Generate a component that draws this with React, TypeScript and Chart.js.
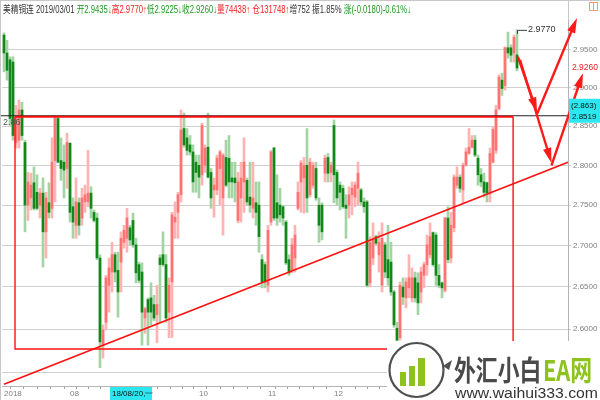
import React, { useEffect, useRef } from "react";
import { Chart, registerables } from "chart.js";
Chart.register(...registerables);

// ---- Daily OHLC, 美精铜连 (2018-07 .. 2019-03-01) ----
const opens = [
  2.970, 2.946, 2.937, 2.934, 2.829, 2.832, 2.871, 2.829, 2.750, 2.759,
  2.778, 2.766, 2.750, 2.765, 2.717, 2.753, 2.746, 2.806, 2.860, 2.806,
  2.804, 2.796, 2.828, 2.748, 2.725, 2.753, 2.734, 2.754, 2.754, 2.765,
  2.741, 2.734, 2.685, 2.581, 2.608, 2.652, 2.668, 2.689, 2.670, 2.680,
  2.704, 2.709, 2.722, 2.731, 2.701, 2.677, 2.668, 2.613, 2.635, 2.637,
  2.629, 2.617, 2.685, 2.689, 2.677, 2.620, 2.656, 2.729, 2.741, 2.763,
  2.847, 2.835, 2.826, 2.817, 2.804, 2.800, 2.788, 2.800, 2.823, 2.791,
  2.769, 2.769, 2.796, 2.759, 2.810, 2.809, 2.784, 2.784, 2.731, 2.759,
  2.779, 2.781, 2.760, 2.746, 2.753, 2.750, 2.683, 2.677, 2.652, 2.729,
  2.822, 2.753, 2.750, 2.748, 2.729, 2.683, 2.670, 2.685, 2.746, 2.779,
  2.784, 2.800, 2.763, 2.775, 2.796, 2.750, 2.750, 2.790, 2.810, 2.791,
  2.851, 2.791, 2.775, 2.771, 2.750, 2.750, 2.763, 2.760, 2.771, 2.769,
  2.754, 2.754, 2.655, 2.685, 2.711, 2.689, 2.652, 2.701, 2.683, 2.680,
  2.644, 2.601, 2.590, 2.650, 2.637, 2.649, 2.637, 2.661, 2.655, 2.644,
  2.664, 2.677, 2.689, 2.716, 2.713, 2.664, 2.655, 2.646, 2.734, 2.685,
  2.722, 2.775, 2.785, 2.769, 2.800, 2.815, 2.823, 2.832, 2.809, 2.788,
  2.779, 2.778, 2.766, 2.804, 2.819, 2.873, 2.910, 2.903, 2.953, 2.953,
  2.946, 2.9435,
];
const highs = [
  2.973, 2.963, 2.941, 2.941, 2.877, 2.884, 2.881, 2.832, 2.791, 2.790,
  2.798, 2.788, 2.771, 2.784, 2.766, 2.778, 2.835, 2.862, 2.862, 2.835,
  2.826, 2.841, 2.829, 2.759, 2.784, 2.759, 2.771, 2.775, 2.819, 2.773,
  2.744, 2.740, 2.689, 2.605, 2.664, 2.685, 2.704, 2.692, 2.692, 2.717,
  2.725, 2.746, 2.725, 2.740, 2.709, 2.680, 2.679, 2.626, 2.637, 2.655,
  2.640, 2.652, 2.689, 2.717, 2.689, 2.661, 2.741, 2.754, 2.766, 2.871,
  2.867, 2.847, 2.838, 2.826, 2.813, 2.813, 2.854, 2.826, 2.867, 2.796,
  2.784, 2.813, 2.819, 2.815, 2.832, 2.838, 2.804, 2.804, 2.791, 2.804,
  2.835, 2.784, 2.804, 2.804, 2.779, 2.779, 2.689, 2.680, 2.725, 2.819,
  2.823, 2.788, 2.771, 2.750, 2.731, 2.689, 2.709, 2.725, 2.779, 2.806,
  2.810, 2.847, 2.809, 2.804, 2.804, 2.759, 2.753, 2.813, 2.815, 2.804,
  2.858, 2.794, 2.779, 2.775, 2.763, 2.773, 2.779, 2.779, 2.804, 2.771,
  2.759, 2.756, 2.711, 2.728, 2.713, 2.717, 2.728, 2.704, 2.725, 2.704,
  2.646, 2.608, 2.656, 2.661, 2.661, 2.689, 2.673, 2.668, 2.667, 2.674,
  2.680, 2.713, 2.728, 2.717, 2.716, 2.677, 2.656, 2.735, 2.748, 2.741,
  2.788, 2.798, 2.788, 2.803, 2.822, 2.847, 2.838, 2.838, 2.813, 2.796,
  2.790, 2.779, 2.822, 2.849, 2.877, 2.917, 2.919, 2.954, 2.974, 2.957,
  2.970, 2.977,
];
const lows = [
  2.921, 2.910, 2.851, 2.832, 2.822, 2.822, 2.832, 2.717, 2.731, 2.744,
  2.744, 2.744, 2.734, 2.674, 2.685, 2.734, 2.734, 2.754, 2.803, 2.781,
  2.759, 2.771, 2.729, 2.709, 2.709, 2.713, 2.725, 2.741, 2.748, 2.734,
  2.729, 2.683, 2.555, 2.566, 2.599, 2.620, 2.644, 2.656, 2.614, 2.644,
  2.697, 2.692, 2.701, 2.698, 2.655, 2.655, 2.581, 2.595, 2.581, 2.605,
  2.610, 2.584, 2.608, 2.675, 2.608, 2.590, 2.590, 2.709, 2.709, 2.754,
  2.823, 2.813, 2.813, 2.766, 2.766, 2.759, 2.775, 2.791, 2.784, 2.746,
  2.735, 2.763, 2.750, 2.713, 2.773, 2.759, 2.759, 2.754, 2.728, 2.729,
  2.741, 2.750, 2.741, 2.734, 2.725, 2.692, 2.649, 2.649, 2.644, 2.725,
  2.731, 2.725, 2.729, 2.725, 2.677, 2.664, 2.667, 2.668, 2.744, 2.741,
  2.740, 2.741, 2.760, 2.771, 2.756, 2.704, 2.707, 2.779, 2.779, 2.779,
  2.753, 2.750, 2.744, 2.746, 2.709, 2.734, 2.738, 2.748, 2.750, 2.750,
  2.741, 2.650, 2.650, 2.677, 2.701, 2.668, 2.644, 2.661, 2.652, 2.640,
  2.602, 2.585, 2.587, 2.629, 2.625, 2.637, 2.632, 2.632, 2.617, 2.631,
  2.649, 2.664, 2.685, 2.675, 2.652, 2.649, 2.637, 2.644, 2.679, 2.679,
  2.717, 2.771, 2.766, 2.753, 2.799, 2.814, 2.822, 2.811, 2.775, 2.773,
  2.760, 2.754, 2.754, 2.803, 2.815, 2.871, 2.890, 2.897, 2.939, 2.934,
  2.934, 2.9225,
];
const closes = [
  2.946, 2.923, 2.860, 2.838, 2.860, 2.871, 2.838, 2.750, 2.779, 2.775,
  2.746, 2.746, 2.765, 2.717, 2.759, 2.741, 2.804, 2.860, 2.804, 2.796,
  2.794, 2.829, 2.741, 2.729, 2.754, 2.725, 2.759, 2.763, 2.765, 2.746,
  2.731, 2.685, 2.585, 2.599, 2.661, 2.673, 2.689, 2.668, 2.644, 2.709,
  2.719, 2.734, 2.707, 2.701, 2.667, 2.658, 2.620, 2.624, 2.620, 2.620,
  2.613, 2.629, 2.677, 2.677, 2.613, 2.652, 2.738, 2.735, 2.763, 2.845,
  2.826, 2.819, 2.817, 2.779, 2.791, 2.785, 2.851, 2.822, 2.785, 2.759,
  2.775, 2.809, 2.817, 2.813, 2.775, 2.779, 2.779, 2.778, 2.779, 2.784,
  2.804, 2.754, 2.750, 2.759, 2.741, 2.711, 2.656, 2.656, 2.719, 2.817,
  2.734, 2.734, 2.738, 2.734, 2.679, 2.667, 2.701, 2.713, 2.766, 2.803,
  2.800, 2.759, 2.804, 2.800, 2.759, 2.725, 2.717, 2.809, 2.790, 2.800,
  2.788, 2.759, 2.766, 2.748, 2.746, 2.763, 2.771, 2.775, 2.790, 2.754,
  2.748, 2.652, 2.704, 2.707, 2.703, 2.704, 2.709, 2.668, 2.661, 2.644,
  2.605, 2.587, 2.652, 2.638, 2.656, 2.661, 2.661, 2.637, 2.631, 2.668,
  2.677, 2.701, 2.711, 2.677, 2.664, 2.652, 2.649, 2.734, 2.683, 2.725,
  2.785, 2.785, 2.771, 2.800, 2.817, 2.823, 2.832, 2.813, 2.788, 2.779,
  2.766, 2.765, 2.815, 2.846, 2.871, 2.914, 2.899, 2.953, 2.946, 2.943,
  2.967, 2.926,
];

// ---- axes ----
const yTickValues = [2.55, 2.6, 2.65, 2.7, 2.75, 2.8, 2.85, 2.9, 2.95];
const xLabelIndex = [0, 22, 45, 65, 88, 110, 131];
const xLabelText = ["2018", "08", "09", "10", "11", "12", "2019"];
const xMinorIndex = [4, 9, 13, 18, 26, 30, 34, 40, 49, 53, 58, 61, 70, 74, 79, 83, 93, 96, 101, 105, 115, 119, 123, 127, 136, 140, 145, 149, 158, 162, 166];

// ---- annotations (index, price) ----
const cursorPrice = 2.8635;
const resistancePrice = 2.8622;
const boxLeftIndex = 3.67;
const boxRightIndex = 169.7;
const boxBottomPrice = 2.5766;
const trendFrom = [0, 2.5359];
const trendTo = [188, 2.804];
const arrowFrom = [[171.3, 2.941], [177.7, 2.866], [172.0, 2.937], [182.5, 2.8]];
const arrowTo = [[177.7, 2.868], [191.0, 2.993], [182.5, 2.803], [193.0, 2.9195]];
const highMark = 2.977;
const lastClose = 2.926;
const cursorDateIndex = 36;
const cursorDateText = "18/08/20,一";
const axisBoxTop = "(2.863)";
const axisBoxBottom = "2.8519";

const titleSegments: [string, string][] = [
  ["美精铜连 2019/03/01 ", "dark"],
  ["开2.9435↓", "green"],
  ["高2.9770↑", "red"],
  ["低2.9225↓", "green"],
  ["收2.9260↓", "green"],
  ["量74438↑ ", "red"],
  ["仓131748↑", "red"],
  ["增752 ", "dark"],
  ["振1.85% ", "dark"],
  ["涨(-0.0180)-0.61%↓", "green"],
];

const COLORS: Record<string, string> = { dark: "#333333", green: "#1f9a1f", red: "#f01c1c" };

function drawArrow(ctx: CanvasRenderingContext2D, x0: number, y0: number, x1: number, y1: number) {
  const ang = Math.atan2(y1 - y0, x1 - x0);
  const L = 15, W = 4.2;
  const bx = x1 - L * Math.cos(ang), by = y1 - L * Math.sin(ang);
  ctx.beginPath();
  ctx.moveTo(x0, y0);
  ctx.lineTo(bx + 2 * Math.cos(ang), by + 2 * Math.sin(ang));
  ctx.stroke();
  ctx.beginPath();
  ctx.moveTo(x1, y1);
  ctx.lineTo(bx + W * Math.sin(ang), by - W * Math.cos(ang));
  ctx.lineTo(bx - W * Math.sin(ang), by + W * Math.cos(ang));
  ctx.closePath();
  ctx.fill();
}

const overlayPlugin = {
  id: "overlay",
  beforeDraw(chart: any) {
    const ctx = chart.ctx;
    ctx.save();
    ctx.fillStyle = "#ffffff";
    ctx.fillRect(0, 0, chart.width, chart.height);
    ctx.restore();
  },
  afterDatasetsDraw(chart: any) {
    const ctx: CanvasRenderingContext2D = chart.ctx;
    const xs = chart.scales.x, ys = chart.scales.y;
    const X = (v: number) => xs.getPixelForValue(v);
    const Y = (v: number) => ys.getPixelForValue(v);
    const area = chart.chartArea;
    ctx.save();
    // cursor line (black)
    ctx.strokeStyle = "#222";
    ctx.lineWidth = 1.2;
    ctx.beginPath();
    ctx.moveTo(0, Y(cursorPrice));
    ctx.lineTo(area.right, Y(cursorPrice));
    ctx.stroke();
    // rectangle (red)
    ctx.strokeStyle = "#ff1010";
    ctx.lineWidth = 1.4;
    ctx.beginPath();
    ctx.moveTo(X(boxLeftIndex), Y(resistancePrice));
    ctx.lineTo(X(boxLeftIndex), Y(boxBottomPrice));
    ctx.lineTo(X(boxRightIndex), Y(boxBottomPrice));
    ctx.lineTo(X(boxRightIndex), Y(resistancePrice));
    ctx.stroke();
    ctx.lineWidth = 2;
    ctx.beginPath();
    ctx.moveTo(X(boxLeftIndex), Y(resistancePrice));
    ctx.lineTo(X(boxRightIndex), Y(resistancePrice));
    ctx.stroke();
    // trend line
    ctx.lineWidth = 1.6;
    ctx.beginPath();
    ctx.moveTo(X(trendFrom[0]), Y(trendFrom[1]));
    ctx.lineTo(X(trendTo[0]), Y(trendTo[1]));
    ctx.stroke();
    // arrows
    ctx.strokeStyle = "#ff1a1a";
    ctx.fillStyle = "#ff1a1a";
    ctx.lineWidth = 2.4;
    for (let i = 0; i < arrowFrom.length; i++) {
      drawArrow(ctx, X(arrowFrom[i][0]), Y(arrowFrom[i][1]), X(arrowTo[i][0]), Y(arrowTo[i][1]));
    }
    ctx.restore();
  },
  afterDraw(chart: any) {
    const ctx: CanvasRenderingContext2D = chart.ctx;
    const xs = chart.scales.x, ys = chart.scales.y;
    const X = (v: number) => xs.getPixelForValue(v);
    const Y = (v: number) => ys.getPixelForValue(v);
    const area = chart.chartArea;
    ctx.save();
    // frame lines
    ctx.strokeStyle = "#c8c8c8";
    ctx.lineWidth = 1;
    ctx.beginPath();
    ctx.moveTo(0.5, 0); ctx.lineTo(0.5, 400);
    ctx.moveTo(0, 0.5); ctx.lineTo(600, 0.5);
    ctx.moveTo(area.right + 0.5, 0); ctx.lineTo(area.right + 0.5, area.top);
    ctx.stroke();

    // title
    ctx.font = '10.5px "Liberation Sans", "Noto Sans CJK SC", sans-serif';
    ctx.textBaseline = "alphabetic";
    let total = 0;
    titleSegments.forEach((s) => (total += ctx.measureText(s[0]).width));
    const sx = Math.min(1, 408 / total);
    ctx.save();
    ctx.translate(3, 0);
    ctx.scale(sx, 1);
    let tx = 0;
    for (const [t, c] of titleSegments) {
      ctx.fillStyle = COLORS[c];
      ctx.fillText(t, tx, 13);
      tx += ctx.measureText(t).width;
    }
    ctx.restore();

    // orange icon
    ctx.strokeStyle = "#f59a6a";
    ctx.strokeRect(589.5, 2.5, 8, 8);
    ctx.beginPath(); ctx.moveTo(593.5, 2.5); ctx.lineTo(593.5, 10.5); ctx.stroke();

    // left value label of cursor line
    ctx.font = '9px "Liberation Sans", sans-serif';
    ctx.fillStyle = "#555";
    ctx.textBaseline = "top";
    ctx.fillText("2.86", 3, Y(cursorPrice) + 2);

    // high marker
    const hx = X(opens.length - 1), hy = Y(highMark);
    ctx.strokeStyle = "#444";
    ctx.lineWidth = 1;
    ctx.beginPath();
    ctx.moveTo(hx + 0.5, hy + 4); ctx.lineTo(hx + 0.5, hy + 0.5); ctx.lineTo(hx + 10, hy + 0.5);
    ctx.stroke();
    ctx.fillStyle = "#333";
    ctx.textBaseline = "middle";
    ctx.font = '9px "Liberation Sans", sans-serif';
    ctx.fillText(highMark.toFixed(4), hx + 11, hy);

    // last close on axis
    const cy = Y(lastClose);
    ctx.fillStyle = "#ffffff";
    ctx.fillRect(area.right + 2, cy - 6, 30, 12);
    ctx.fillStyle = "#f01c1c";
    ctx.font = '8.5px "Liberation Sans", sans-serif';
    ctx.fillText(lastClose.toFixed(4), area.right + 4, cy);

    // cyan box on axis
    const by = Y(cursorPrice);
    ctx.fillStyle = "#2ee6f0";
    ctx.fillRect(area.right + 1, by - 17, 31, 24);
    ctx.fillStyle = "#111";
    ctx.font = '8px "Liberation Sans", sans-serif';
    ctx.fillText(axisBoxTop, area.right + 3, by - 10);
    ctx.fillText(axisBoxBottom, area.right + 4, by + 1);

    // cursor date box
    const dx = X(cursorDateIndex) - 2;
    ctx.fillStyle = "#2ee6f0";
    ctx.fillRect(dx, area.bottom + 1, 42, 13);
    ctx.fillStyle = "#111";
    ctx.textBaseline = "middle";
    ctx.fillText(cursorDateText, dx + 2, area.bottom + 8);

    // watermark
    ctx.fillStyle = "#ffffff";
    ctx.fillRect(387, 341, 213, 59);
    ctx.strokeStyle = "#505050";
    ctx.lineWidth = 2.2;
    ctx.beginPath();
    ctx.arc(416.5, 370, 27, 0, Math.PI * 2);
    ctx.stroke();
    ctx.fillStyle = "#8dc21f";
    ctx.fillRect(400, 372, 6, 14);
    ctx.fillRect(409, 366, 6, 20);
    ctx.fillRect(418, 358, 7, 28);
    ctx.fillStyle = "#505050";
    ctx.beginPath();
    ctx.moveTo(443, 366); ctx.lineTo(452, 360); ctx.lineTo(449, 370); ctx.closePath();
    ctx.fill();
    ctx.save();
    ctx.textBaseline = "alphabetic";
    ctx.font = 'bold 28px "Noto Sans CJK SC", sans-serif';
    ctx.translate(454, 381);
    ctx.scale(0.78, 1);
    ctx.fillStyle = "#4a4a4a";
    ctx.fillText("外汇小白", 0, 0);
    const w1 = ctx.measureText("外汇小白").width;
    ctx.fillStyle = "#8dc21f";
    ctx.fillText("EA网", w1 + 2, 0);
    ctx.restore();
    ctx.save();
    ctx.font = '14px "Liberation Sans", sans-serif';
    ctx.textBaseline = "alphabetic";
    const ww = ctx.measureText("www.waihui333.com").width;
    ctx.translate(455, 398);
    ctx.scale(143 / ww, 1);
    ctx.fillStyle = "#333";
    ctx.fillText("www.waihui333.com", 0, 0);
    ctx.restore();

    ctx.restore();
  },
};

export default function App() {
  const ref = useRef<HTMLCanvasElement | null>(null);
  useEffect(() => {
    if (!ref.current) return;
    const idx = opens.map((_, i) => i);
    const up = (i: number) => closes[i] > opens[i];
    const labelMap: Record<number, string> = {};
    xLabelIndex.forEach((v, i) => (labelMap[v] = xLabelText[i]));
    const allXTicks = [...xLabelIndex, ...xMinorIndex].sort((a, b) => a - b);
    const chart = new Chart(ref.current, {
      type: "bar",
      data: {
        datasets: [
          {
            label: "body",
            data: idx.map((i) => ({ x: i, y: [Math.min(opens[i], closes[i]), Math.max(opens[i], closes[i])] })) as any,
            backgroundColor: idx.map((i) => (up(i) ? "#ff7373" : "#12881a")),
            barThickness: 2,
            grouped: false,
            minBarLength: 1,
            borderWidth: 0,
            order: 1,
          } as any,
          {
            label: "wick",
            data: idx.map((i) => ({ x: i, y: [lows[i], highs[i]] })) as any,
            backgroundColor: idx.map((i) => (up(i) ? "#ffb3b3" : "#a3d4a3")),
            barThickness: 2,
            grouped: false,
            borderWidth: 0,
            order: 2,
          } as any,
        ],
      },
      options: {
        responsive: false,
        devicePixelRatio: 1,
        animation: false,
        events: [],
        layout: { padding: { top: 20, left: 2, right: 0, bottom: 0 } },
        plugins: { legend: { display: false }, tooltip: { enabled: false }, title: { display: false } },
        scales: {
          x: {
            type: "linear",
            min: -0.667,
            max: 188,
            offset: false,
            afterBuildTicks: (s: any) => {
              s.ticks = allXTicks.map((v) => ({ value: v }));
            },
            afterFit: (s: any) => {
              s.height = 14;
            },
            ticks: {
              autoSkip: false,
              maxRotation: 0,
              align: "start",
              padding: 0,
              color: "#808080",
              font: { size: 8, family: "Liberation Sans" },
              callback: (v: any) => labelMap[Number(v)] ?? "",
            },
            grid: { drawOnChartArea: false, drawTicks: true, tickLength: 3, color: "#a0a0a0" },
            border: { display: true, color: "#b4b4b4" },
          } as any,
          y: {
            type: "logarithmic",
            position: "right",
            min: 2.5339,
            max: 2.9903,
            afterBuildTicks: (s: any) => {
              s.ticks = yTickValues.map((v) => ({ value: v }));
            },
            afterFit: (s: any) => {
              s.width = 32;
            },
            ticks: {
              padding: 2,
              color: "#808080",
              font: { size: 8, family: "Liberation Sans" },
              callback: (v: any) => Number(v).toFixed(4),
            },
            grid: { color: "#d0d0d0", tickLength: 3, drawTicks: true },
            border: { display: true, color: "#b4b4b4" },
          } as any,
        },
      },
      plugins: [overlayPlugin],
    });
    return () => chart.destroy();
  }, []);
  return (
    <div style={{ position: "fixed", left: 0, top: 0, width: 600, height: 400, background: "#fff" }}>
      <canvas ref={ref} width={600} height={400} style={{ display: "block" }} />
    </div>
  );
}
